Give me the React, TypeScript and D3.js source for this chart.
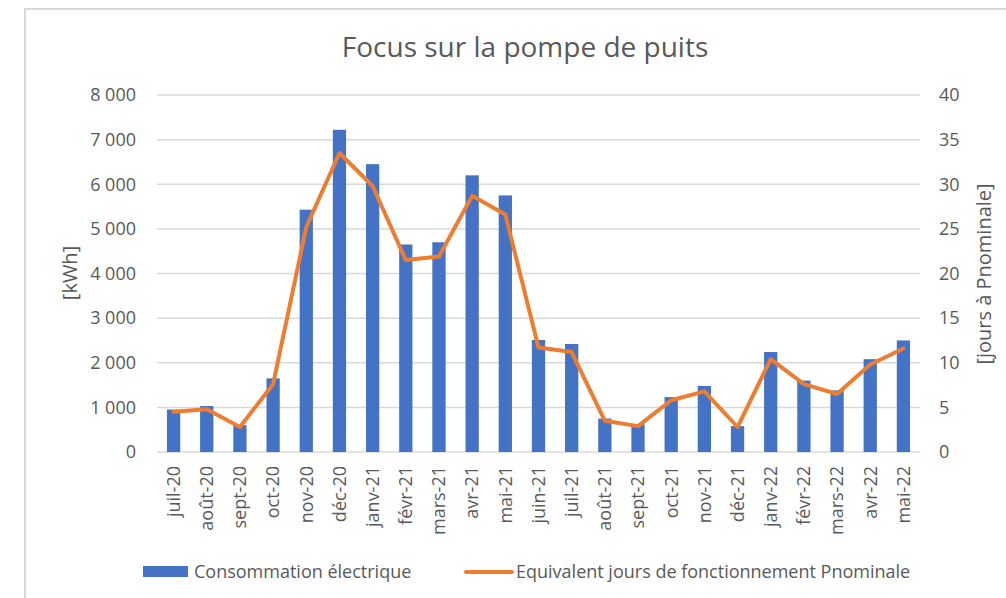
import React from 'react';
import * as d3 from 'd3';

// months shown on the category axis
const months = [
  'juil-20', 'août-20', 'sept-20', 'oct-20', 'nov-20', 'déc-20', 'janv-21', 'févr-21',
  'mars-21', 'avr-21', 'mai-21', 'juin-21', 'juil-21', 'août-21', 'sept-21', 'oct-21',
  'nov-21', 'déc-21', 'janv-22', 'févr-22', 'mars-22', 'avr-22', 'mai-22',
];

// Consommation électrique [kWh]
const consumption = [
  950, 1030, 600, 1650, 5430, 7220, 6450, 4650, 4700, 6200, 5750, 2510,
  2420, 750, 620, 1230, 1480, 580, 2240, 1600, 1380, 2080, 2500,
];

// Equivalent jours de fonctionnement Pnominale
const days = [
  4.5, 4.8, 2.8, 7.6, 25.2, 33.5, 29.8, 21.5, 21.9, 28.7, 26.6, 11.7,
  11.2, 3.5, 2.9, 5.8, 6.8, 2.8, 10.4, 7.6, 6.5, 9.8, 11.6,
];

const leftTicks = [0, 1000, 2000, 3000, 4000, 5000, 6000, 7000, 8000];
const rightTicks = [0, 5, 10, 15, 20, 25, 30, 35, 40];

const W = 1006;
const H = 598;
const font = '"Open Sans", sans-serif';
const textColor = '#595959';
const gridColor = '#D9D9D9';
const blue = '#4472C4';
const orange = '#ED7D31';

const fmt = (v: number) => d3.format(',')(v).replace(/,/g, ' ');

export default function App() {
  const x = d3.scaleBand<string>().domain(months).range([157, 920]).paddingInner(0.6).paddingOuter(0.3);
  const yL = d3.scaleLinear().domain([0, 8000]).range([452, 95]);
  const yR = d3.scaleLinear().domain([0, 40]).range([452, 95]);

  const line = d3.line<number>()
    .x((_, i) => x(months[i])! + x.bandwidth() / 2)
    .y((d) => yR(d));

  return (
    <svg width={W} height={H} style={{ position: 'absolute', left: 0, top: 0, background: '#fff' }}
      fontFamily={font}>
      {/* chart frame */}
      <rect x={25} y={9} width={W} height={H} fill="#fff" stroke={gridColor} strokeWidth={2} />

      <text x={525} y={57} textAnchor="middle" fontSize={28} fill={textColor}>
        Focus sur la pompe de puits
      </text>

      {/* gridlines + left ticks */}
      {leftTicks.map((t) => (
        <g key={'l' + t}>
          <line x1={157} x2={920} y1={yL(t)} y2={yL(t)} stroke={gridColor} strokeWidth={1.5} />
          <text x={136} y={yL(t)} dy="0.35em" textAnchor="end" fontSize={18} fill={textColor}>{fmt(t)}</text>
        </g>
      ))}
      {rightTicks.map((t) => (
        <text key={'r' + t} x={939} y={yR(t)} dy="0.35em" textAnchor="start" fontSize={18} fill={textColor}>{t}</text>
      ))}

      {/* bars */}
      {consumption.map((v, i) => (
        <rect key={months[i]} x={x(months[i])} y={yL(v)} width={x.bandwidth()} height={yL(0) - yL(v)} fill={blue} />
      ))}

      <path d={line(days)!} fill="none" stroke={orange} strokeWidth={4} strokeLinejoin="round" strokeLinecap="round" />

      {/* category labels */}
      {months.map((m) => {
        const cx = x(m)! + x.bandwidth() / 2;
        return (
          <text key={'x' + m} transform={`translate(${cx},466) rotate(-90)`} dy="0.35em" textAnchor="end"
            fontSize={18} fill={textColor}>{m}</text>
        );
      })}

      {/* axis titles */}
      <text transform="translate(70,273) rotate(-90)" dy="0.35em" textAnchor="middle" fontSize={20} fill={textColor}>[kWh]</text>
      <text transform="translate(984,274) rotate(-90)" dy="0.35em" textAnchor="middle" fontSize={20} fill={textColor}>[jours à Pnominale]</text>

      {/* legend */}
      <rect x={143} y={566} width={45} height={11} fill={blue} />
      <text x={194} y={572} dy="0.35em" fontSize={18} fill={textColor}>Consommation électrique</text>
      <line x1={466} x2={512} y1={572} y2={572} stroke={orange} strokeWidth={4} strokeLinecap="round" />
      <text x={516} y={572} dy="0.35em" fontSize={18} fill={textColor}>Equivalent jours de fonctionnement Pnominale</text>
    </svg>
  );
}
